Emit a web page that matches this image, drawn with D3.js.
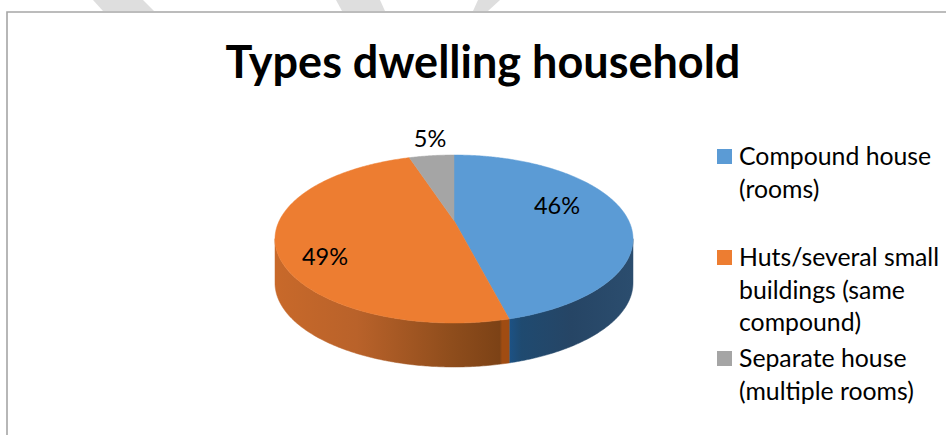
<!DOCTYPE html>
<html><head><meta charset="utf-8">
<style>html,body{margin:0;padding:0;background:#fff}svg{display:block}text{font-family:Lato,"Open Sans",sans-serif;fill:#000}</style>
<script src="https://cdnjs.cloudflare.com/ajax/libs/d3/7.8.5/d3.min.js"></script>
</head><body><svg id="c" width="946" height="435"></svg>
<script>
const categories = ["Compound house (rooms)", "Huts/several small buildings (same compound)", "Separate house (multiple rooms)"];
const values = [46, 49, 5];
const labels = ["46%", "49%", "5%"];
const colors = ["#5b9bd5", "#ed7d31", "#a5a5a5"];
const legendLines = [["Compound house", "(rooms)"], ["Huts/several small", "buildings (same", "compound)"], ["Separate house", "(multiple rooms)"]];
const title = "Types dwelling household";

const svg = d3.select("#c");
svg.append("rect").attr("width", 946).attr("height", 435).attr("fill", "#fff");

// watermark fragments and frame
const wm = [[[93,0],[143,0],[154,11],[103,11]],[[336,0],[380,0],[385,11],[342,11]],[[478,0],[500,0],[488,11],[473,11]]];
svg.selectAll("polygon.wm").data(wm).join("polygon").attr("fill", "#dedede")
  .attr("points", d => d.map(p => p.join(",")).join(" "));
svg.append("path").attr("d", "M7 435V12H946").attr("fill", "none").attr("stroke", "#a6a6a6").attr("stroke-width", 1.6);

svg.append("text").attr("x", 483).attr("y", 78).attr("text-anchor", "middle")
  .attr("font-size", 45).attr("font-weight", 700).text(title);

// Perspective pie: angles from d3.pie, projected onto the tilted disc
const pie = d3.pie().sort(null).value(d => d)(values);
const P = 0.22, box = {x0: 275, x1: 633, y0: 155, y1: 323}, depth = 44;
const raw = t => { const X = Math.sin(t), Y = -Math.cos(t), w = 1 - P * Y; return [X / w, Y / w]; };
const samples = d3.range(0, 721).map(i => raw(i / 720 * 2 * Math.PI));
const sx = d3.scaleLinear().domain(d3.extent(samples, d => d[0])).range([box.x0, box.x1]);
const sy = d3.scaleLinear().domain(d3.extent(samples, d => d[1])).range([box.y0, box.y1]);
const proj = t => { const r = raw(t); return [sx(r[0]), sy(r[1])]; };
const arcPts = (a, b) => { const n = Math.max(2, Math.ceil((b - a) / 0.01)); return d3.range(n + 1).map(i => proj(a + (b - a) * i / n)); };
const line = d3.line();

// leftmost / rightmost parameters bound the visible wall
const idxL = d3.minIndex(samples, d => d[0]), idxR = d3.maxIndex(samples, d => d[0]);
const tR = idxR / 720 * 2 * Math.PI, tL = idxL / 720 * 2 * Math.PI;

const defs = svg.append("defs");
const grad = (id, stops, x1, x2) => {
  const g = defs.append("linearGradient").attr("id", id).attr("gradientUnits", "userSpaceOnUse")
    .attr("x1", x1).attr("x2", x2).attr("y1", 0).attr("y2", 0);
  stops.forEach(s => g.append("stop").attr("offset", s[0]).attr("stop-color", s[1]));
};
const seam = proj(pie[0].endAngle)[0];
grad("wallO", [[0, "#c8692a"], [0.35, "#b9622a"], [0.75, "#8f4d1c"], [0.96, "#7c4216"], [0.97, "#a04c12"], [1, "#a04c12"]], box.x0, seam);
grad("wallB", [[0, "#1c5285"], [0.1, "#1f4a70"], [0.5, "#264565"], [1, "#2b4d6e"]], seam, box.x1);

const wall = (a, b, fill) => {
  const top = arcPts(a, b), bot = top.map(p => [p[0], p[1] + depth]).reverse();
  svg.append("path").attr("d", line(top.concat(bot)) + "Z").attr("fill", fill).attr("stroke", fill).attr("stroke-width", 0.5);
};
wall(tR, pie[0].endAngle, "url(#wallB)");
wall(pie[0].endAngle, tL, "url(#wallO)");

const hub = [sx(0), sy(0)];
svg.selectAll("path.slice").data(pie).join("path").attr("class", "slice")
  .attr("fill", (d, i) => colors[i]).attr("stroke", (d, i) => colors[i]).attr("stroke-width", 0.5)
  .attr("d", d => line([hub].concat(arcPts(d.startAngle, d.endAngle))) + "Z");

// value labels
const labelAt = [[557, 214], [325, 265], [430, 147]];
svg.selectAll("text.v").data(labels).join("text").attr("class", "v")
  .attr("x", (d, i) => labelAt[i][0]).attr("y", (d, i) => labelAt[i][1]).attr("text-anchor", "middle")
  .attr("font-size", 23.5).text(d => d);

// legend
const legY = [165, 266, 367], lh = 32.5;
const leg = svg.selectAll("g.leg").data(legendLines).join("g").attr("class", "leg");
leg.append("rect").attr("x", 717).attr("y", (d, i) => legY[i] - 16).attr("width", 15).attr("height", 15)
  .attr("fill", (d, i) => colors[i]);
leg.each(function (d, i) {
  d3.select(this).selectAll("text").data(d).join("text").attr("x", 739)
    .attr("y", (t, j) => legY[i] + j * lh).attr("font-size", 24.8).text(t => t);
});
</script></body></html>
